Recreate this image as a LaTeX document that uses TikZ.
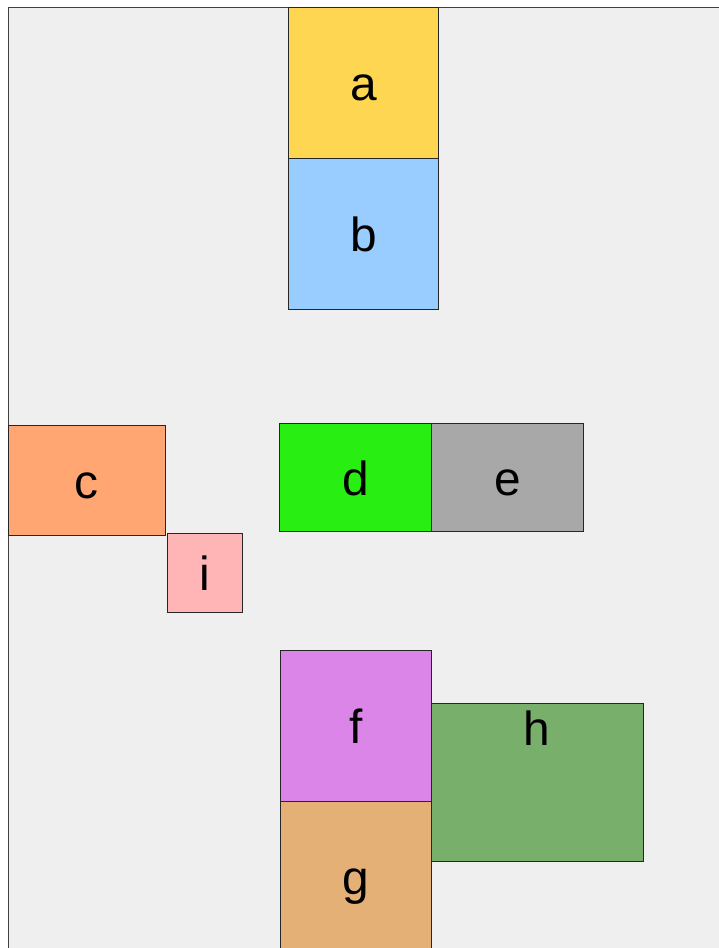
\documentclass[tikz,border=0pt]{standalone}
\usepackage{fontspec}
\setmainfont{Liberation Sans}
\definecolor{bgc}{RGB}{239,239,239}
\definecolor{ca}{RGB}{255,214,82}
\definecolor{cb}{RGB}{153,204,255}
\definecolor{cc}{RGB}{255,166,114}
\definecolor{ci}{RGB}{255,181,181}
\definecolor{cd}{RGB}{41,238,17}
\definecolor{ce}{RGB}{168,168,168}
\definecolor{cf}{RGB}{220,133,232}
\definecolor{cg}{RGB}{229,176,117}
\definecolor{ch}{RGB}{120,175,107}
\tikzset{
  box/.style={draw=black!85, line width=0.9bp, inner sep=0pt, anchor=north west,
    text height=36bp, text depth=0bp, font=\fontsize{48}{50}\selectfont},
  lab/.style={inner sep=0pt, anchor=base, font=\fontsize{48}{50}\selectfont}
}
\begin{document}
\begin{tikzpicture}[x=1bp,y=-1bp]
\useasboundingbox (0,0) rectangle (719,948);
\clip (0,0) rectangle (719,948);
\fill[white] (0,0) rectangle (719,948);
\draw[fill=bgc, draw=black!75, line width=0.9bp] (8,7) rectangle (740,970);
\node[box, fill=ca, minimum width=150bp, minimum height=151bp] (a) at (288,7) {a};
\node[box, fill=cb, minimum width=150bp, minimum height=151bp] (b) at (288,158) {b};
\node[box, fill=cc, minimum width=157bp, minimum height=110bp] (c) at (8,425) {c};
\node[box, fill=ci, minimum width=75bp, minimum height=79bp] (i) at (167,533) {i};
\node[box, fill=cd, minimum width=152bp, minimum height=108bp] (d) at (279,423) {d};
\node[box, fill=ce, minimum width=152bp, minimum height=108bp] (e) at (431,423) {e};
\node[box, fill=cf, minimum width=151bp, minimum height=151bp] (f) at (280,650) {f};
\node[box, fill=cg, minimum width=151bp, minimum height=150bp] (g) at (280,801) {g};
\node[box, fill=ch, minimum width=212bp, minimum height=158bp] (h) at (431,703) {};
\node[lab] (hl) at (537,745) {h};
\end{tikzpicture}
\end{document}
